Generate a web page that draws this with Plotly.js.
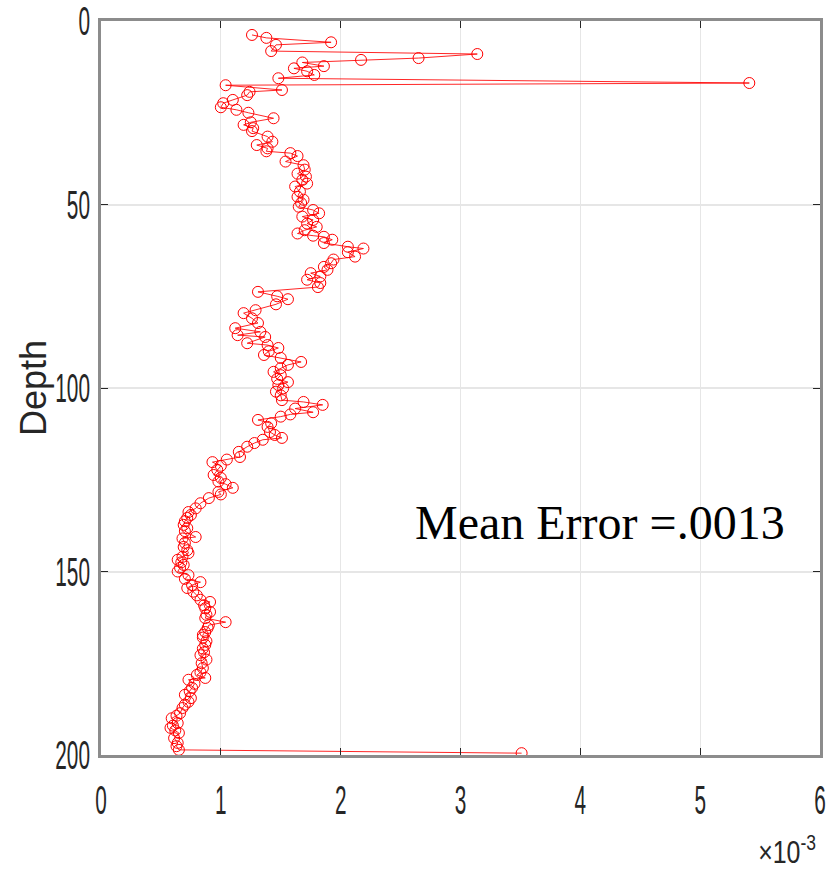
<!DOCTYPE html>
<html>
<head>
<meta charset="utf-8">
<script src="https://cdn.plot.ly/plotly-3.0.1.min.js"></script>
<style>html,body{margin:0;padding:0;background:#fff;}#chart{width:835px;height:875px;}</style>
</head>
<body>
<div id="chart"></div>
<script>
// Depth of each sample
const depth = [
  3.8, 4.6, 5.8, 6.5, 8.2, 9.0, 10.1, 10.6, 11.3, 12.3, 12.9, 13.7, 14.7, 15.6, 16.9, 17.5, 18.8, 19.3, 20.2, 21.5,
  22.4, 23.5, 24.2, 25.0, 26.5, 27.6, 28.3, 29.2, 30.0, 31.5, 32.9, 33.8, 34.7, 35.5, 36.0, 36.8, 38.3, 39.3, 40.5, 41.6,
  42.4, 43.3, 44.3, 45.1, 46.5, 47.9, 48.7, 49.6, 50.6, 51.5, 52.4, 53.3, 54.2, 55.2, 56.1, 57.0, 57.9, 58.5, 58.8, 59.6,
  60.5, 61.5, 62.0, 63.0, 64.2, 65.0, 66.0, 67.0, 67.8, 68.7, 69.6, 70.5, 71.4, 72.5, 73.8, 75.0, 75.8, 77.2, 78.8, 79.6,
  81.0, 82.3, 83.7, 84.7, 85.6, 86.1, 87.8, 88.3, 89.1, 90.0, 91.0, 91.8, 92.9, 93.7, 94.6, 95.6, 96.5, 97.5, 98.4, 99.2,
  100.1, 101.0, 102.0, 103.3, 103.8, 104.6, 105.6, 106.6, 107.2, 107.8, 108.7, 109.6, 110.6, 112.0, 112.8, 113.6, 114.1, 115.0, 116.0, 117.4,
  118.8, 119.5, 120.2, 121.2, 122.3, 123.7, 124.5, 125.5, 126.2, 127.2, 128.3, 129.0, 130.0, 131.4, 132.8, 133.8, 134.6, 135.4, 136.3, 137.3,
  138.2, 139.0, 140.6, 141.0, 142.2, 143.3, 144.2, 145.0, 146.0, 146.8, 147.5, 148.2, 149.0, 150.0, 151.0, 152.0, 152.9, 153.7, 154.5, 155.5,
  156.5, 157.7, 158.3, 159.2, 160.0, 161.0, 161.8, 162.7, 163.8, 164.6, 165.4, 166.5, 167.3, 168.0, 169.0, 170.0, 171.0, 172.0, 172.8, 174.0,
  175.0, 176.3, 177.5, 178.2, 179.0, 179.5, 180.6, 181.7, 182.6, 183.6, 184.5, 185.5, 186.3, 187.2, 188.6, 189.3, 190.0, 191.3, 192.0, 192.6,
  193.3, 194.0, 195.4, 196.7, 197.6, 198.6, 199.5
];
// Error values in units of 1e-3
const errorMilli = [
  1.26, 1.38, 1.92, 1.46, 1.42, 3.14, 2.65, 2.17, 1.68, 1.86, 1.61, 1.72, 1.78, 1.48, 5.41, 1.04, 1.51, 1.24, 1.22, 1.10,
  1.02, 1.00, 1.13, 1.23, 1.44, 1.25, 1.19, 1.27, 1.26, 1.39, 1.43, 1.30, 1.39, 1.38, 1.58, 1.64, 1.54, 1.69, 1.70, 1.64,
  1.71, 1.68, 1.72, 1.62, 1.66, 1.64, 1.69, 1.67, 1.65, 1.77, 1.82, 1.68, 1.77, 1.72, 1.80, 1.70, 1.64, 1.77, 1.86, 1.93,
  1.86, 2.06, 2.19, 2.06, 2.12, 1.94, 1.92, 1.86, 1.89, 1.75, 1.83, 1.72, 1.83, 1.81, 1.31, 1.47, 1.56, 1.46, 1.29, 1.19,
  1.26, 1.31, 1.12, 1.33, 1.14, 1.37, 1.22, 1.39, 1.48, 1.40, 1.36, 1.50, 1.67, 1.56, 1.50, 1.44, 1.50, 1.47, 1.56, 1.48,
  1.52, 1.46, 1.50, 1.51, 1.69, 1.85, 1.62, 1.77, 1.58, 1.50, 1.31, 1.42, 1.39, 1.41, 1.45, 1.51, 1.35, 1.28, 1.22, 1.15,
  1.16, 1.05, 0.93, 1.00, 0.97, 0.94, 1.00, 0.98, 1.04, 1.10, 0.98, 1.00, 0.90, 0.83, 0.79, 0.73, 0.75, 0.72, 0.70, 0.69,
  0.72, 0.70, 0.79, 0.68, 0.70, 0.69, 0.72, 0.73, 0.68, 0.64, 0.67, 0.69, 0.66, 0.64, 0.73, 0.70, 0.83, 0.76, 0.72, 0.77,
  0.80, 0.83, 0.91, 0.86, 0.87, 0.91, 0.88, 0.87, 1.04, 0.90, 0.89, 0.87, 0.85, 0.85, 0.88, 0.87, 0.85, 0.86, 0.83, 0.88,
  0.84, 0.85, 0.83, 0.80, 0.87, 0.73, 0.78, 0.76, 0.74, 0.70, 0.75, 0.73, 0.70, 0.68, 0.66, 0.63, 0.59, 0.64, 0.60, 0.58,
  0.62, 0.65, 0.61, 0.64, 0.63, 0.65, 3.51
];
const xTickVals = [0, 0.001, 0.002, 0.003, 0.004, 0.005, 0.006];
const xTickText = ['0', '1', '2', '3', '4', '5', '6'];
const yTickVals = [0, 50, 100, 150, 200];
const yTickText = ['0', '50', '100', '150', '200'];

const sansFamily = '"Liberation Sans", Arial, Helvetica, sans-serif';
const tickFont = {family: sansFamily, size: 40, color: '#262626'};

const trace = {
  x: errorMilli.map(v => v * 1e-3),
  y: depth,
  mode: 'lines+markers',
  type: 'scatter',
  line: {color: 'rgba(255,0,0,0.85)', width: 1},
  marker: {symbol: 'circle-open', size: 11, color: '#ff0000', line: {width: 1, color: '#ff0000'}},
  hoverinfo: 'skip',
  showlegend: false
};

const layout = {
  width: 835, height: 875,
  margin: {l: 101, r: 15, t: 21, b: 120},
  paper_bgcolor: '#ffffff', plot_bgcolor: '#ffffff',
  showlegend: false,
  xaxis: {
    range: [0, 0.006], tickvals: xTickVals, ticktext: xTickText,
    showgrid: true, gridcolor: '#e6e6e6', gridwidth: 1,
    showline: true, linecolor: '#8c8c8c', linewidth: 3, mirror: 'ticks',
    ticks: 'inside', ticklen: 7, tickcolor: '#262626', tickwidth: 1,
    zeroline: false, tickfont: tickFont, ticklabelstandoff: 8, ticklabeloverflow: 'allow', automargin: false
  },
  yaxis: {
    range: [200, 0], tickvals: yTickVals, ticktext: yTickText,
    showgrid: true, gridcolor: '#e6e6e6', gridwidth: 2,
    showline: true, linecolor: '#8c8c8c', linewidth: 3, mirror: 'ticks',
    ticks: 'inside', ticklen: 7, tickcolor: '#262626', tickwidth: 1,
    zeroline: false, tickfont: tickFont, ticklabelstandoff: 0, ticklabeloverflow: 'allow', automargin: false,
    title: {text: 'Depth', font: {family: sansFamily, size: 36, color: '#262626'}, standoff: 4}
  },
  annotations: [
    {text: 'Mean Error =.0013', xref: 'paper', yref: 'paper', x: 0.434, y: 0.317, xanchor: 'left', yanchor: 'middle',
     showarrow: false, font: {family: '"Liberation Serif", "Times New Roman", serif', size: 48, color: '#000000'}},
    {text: '×10<sup>-3</sup>', xref: 'paper', yref: 'paper', x: 0.954, y: -0.158, xanchor: 'center', yanchor: 'bottom',
     showarrow: false, borderpad: 0, font: {family: sansFamily, size: 32, color: '#262626'}}
  ]
};

// Horizontally condense a text element around its own anchor point
function condense(t, s) {
  const x = parseFloat(t.getAttribute('x')) || 0;
  const tr = t.getAttribute('transform') || '';
  t.setAttribute('transform', tr + ' translate(' + x + ',0) scale(' + s + ',1) translate(' + (-x) + ',0)');
}

Plotly.newPlot('chart', [trace], layout, {staticPlot: true, displayModeBar: false}).then(function (gd) {
  gd.querySelectorAll('.xtick text, .ytick text').forEach(function (t) { condense(t, 0.52); });
  const notes = gd.querySelectorAll('.annotation-text');
  if (notes.length > 1) condense(notes[1], 0.78);
  const yt = gd.querySelector('.ytitle');
  if (yt) {
    const y = parseFloat(yt.getAttribute('y'));
    const x0 = parseFloat(yt.getAttribute('x'));
    const r = yt.getBoundingClientRect();
    const gr = gd.getBoundingClientRect();
    const cx = (r.left + r.right) / 2 - gr.left;
    const bx = x0 + (33 - cx);
    yt.setAttribute('x', bx);
    yt.setAttribute('transform', 'rotate(-90,' + bx + ',' + y + ')');
  }
});
</script>
</body>
</html>
